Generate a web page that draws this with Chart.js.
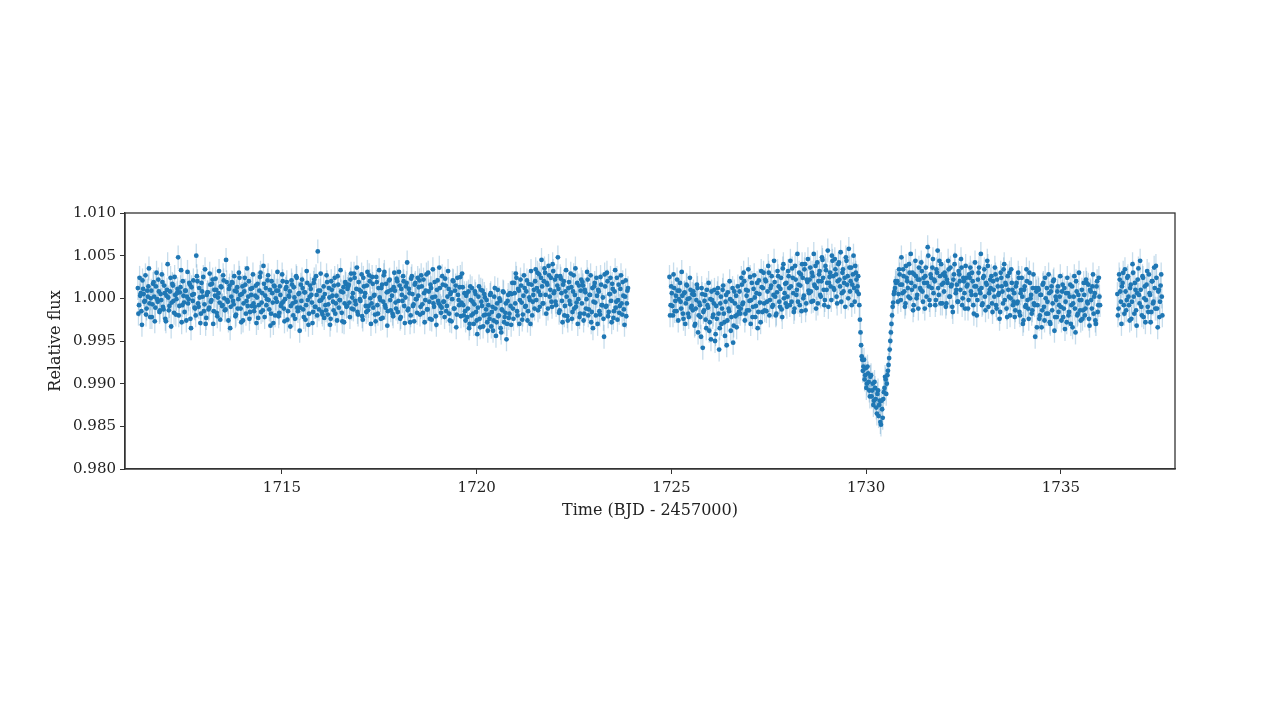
<!DOCTYPE html>
<html>
<head>
<meta charset="utf-8">
<script src="https://cdn.jsdelivr.net/npm/chart.js@4.4.1/dist/chart.umd.min.js"></script>
<style>
  html, body { margin: 0; padding: 0; background: #fff; }
</style>
</head>
<body>
<canvas id="lc" width="1280" height="706"></canvas>
<script>
// Light curve. Flux values are deviations from 1 in units of 1e-4.
// Each segment is kept as two interleaved runs (A and B, offset by half a cadence).
const cadence = 0.03;   // days between samples in one run
const fluxErr = 0.0014; // typical error bar (half length)

const seg1Start = 1711.30;
const seg1Flux = [
  12,-8,3,-15,21,5,-3,-19,9,14,-6,0,-22,17,2,-11,30,-4,8,-14,
  -2,19,-13,6,-27,10,1,-9,24,-5,15,-17,4,-1,11,-20,7,33,-8,3,
  -16,9,2,-6,18,-24,13,-3,5,-12,50,20,-10,1,-18,8,25,-7,-30,4,
  7,-11,16,-2,22,-15,3,10,-21,6,-5,14,-9,27,0,-13,19,-4,11,-35,
  2,18,-7,9,-19,13,-1,24,-12,5,-26,8,16,-3,-9,20,-16,4,12,-6,
  -10,15,1,-23,9,30,-5,-14,17,3,-8,21,-2,10,-18,6,-29,14,0,-4,
  9,-17,4,-6,20,-12,-1,13,-25,3,8,-9,16,-20,1,-4,24,-15,6,-11,
  -3,12,-22,7,-8,18,-31,2,11,-5,-16,22,-10,4,55,-13,9,-2,-19,14,
  5,-14,19,-7,1,-24,10,-4,15,-18,3,26,-11,-2,8,-27,13,-6,17,-9,
  14,-5,22,-12,6,29,-3,11,-16,19,-1,8,-21,24,2,-9,15,-14,27,0,
  -6,17,3,-19,25,-8,12,1,-24,16,-4,31,-11,7,-15,21,-2,10,-18,13,
  9,-12,20,-3,15,-22,4,26,-9,1,18,-14,11,-28,23,5,-7,16,-1,-17,
  3,21,-10,14,-17,6,-2,28,-13,8,-24,12,1,-6,19,-21,10,-3,36,-9,
  -11,16,-4,23,-15,2,11,-26,7,-1,20,-12,15,-19,4,-8,25,-5,13,-20,
  -15,3,-22,8,-30,-2,12,-18,-7,5,-26,-11,14,-34,-4,9,-20,1,-13,-28,
  -8,-24,6,-16,-38,2,-12,-28,10,-20,-3,-40,-14,7,-22,-6,-30,4,-18,-9,
  5,-12,18,-6,24,-20,9,-2,15,-25,3,12,-9,21,-15,1,-30,16,-4,10,
  20,-2,30,8,-10,24,14,-6,35,4,18,-12,27,10,-4,40,6,22,-8,15,
  11,-14,23,-3,16,-20,8,2,-26,19,-7,13,-16,27,4,-10,18,-1,-22,9,
  -6,15,-18,7,-1,22,-13,4,-28,12,-4,18,-20,3,10,-15,25,-8,1,-45,
  14,-9,20,-16,5,-3,17,-23,8,-11,24,-2,-17,11,-6,19,-13,2,-21,9
];
const seg1FluxB = [
  -18,24,6,-31,11,-4,27,-12,2,35,-22,9,-7,19,-27,14,-1,22,-16,5,
  28,-10,15,-24,3,40,-14,8,-33,17,-3,25,-19,6,48,-9,13,-28,20,-5,
  9,-26,31,-1,16,-35,4,21,-11,-20,26,-6,12,-29,18,2,-15,34,-23,7,
  -13,29,-4,17,-30,10,23,-17,1,32,-25,13,-8,21,-14,45,-2,-26,15,-10,
  19,-3,26,-21,8,-12,30,4,-28,14,-6,24,-18,35,2,-24,11,-9,28,-15,
  3,-29,17,-8,25,-16,6,38,-22,12,-1,27,-13,-32,20,-5,15,-20,9,31,
  -21,14,-9,28,-4,-27,11,19,-15,2,-33,21,-6,13,-24,26,-11,5,-38,16,
  22,-13,7,-25,32,-2,-18,15,4,-29,18,-10,26,-20,9,-3,29,-16,1,-23,
  -8,27,-19,12,-31,20,3,-14,24,-6,-26,16,-2,33,-17,7,-28,19,-10,11,
  16,-22,29,1,-13,24,-7,36,-19,10,-3,28,-25,14,6,-16,31,-9,20,-30,
  25,-11,4,-27,19,-18,33,-2,12,-23,27,-8,17,-32,8,22,-14,3,-21,30,
  -5,23,-16,31,-24,11,-3,20,-29,14,42,-12,6,-20,26,-9,-27,18,-1,24,
  13,-19,27,-7,22,-28,9,-13,30,-4,16,-25,34,-10,2,-31,21,-6,12,-17,
  26,-4,-22,15,-9,32,-18,5,-27,21,-12,9,-34,24,-2,13,-21,29,-8,6,
  -26,6,-12,-35,14,-20,-4,-30,8,-16,-42,2,-24,10,-9,-33,5,-19,-2,-38,
  -19,4,-33,-10,-26,12,-44,-6,-21,0,-35,-13,8,-28,-17,-48,-3,-23,6,-31,
  18,-24,6,29,-15,11,-30,22,-5,-19,27,-10,8,-26,17,-2,32,-20,4,-12,
  34,12,-14,28,4,45,-6,20,30,-18,16,38,2,24,-10,32,8,-4,26,48,
  -17,26,6,-28,20,-9,33,-21,12,-3,29,-24,8,-12,35,-5,-30,15,-18,22,
  19,-26,10,-12,31,-20,4,27,-16,-35,14,-5,24,-30,8,-19,16,-8,-24,28,
  -10,30,-21,5,24,-28,11,-15,33,-4,-25,16,-9,27,-19,3,-31,21,-6,12
];

const seg2aStart = 1724.95;
const seg2aFlux = [
  25,-8,6,-20,12,-3,-15,9,-1,18,-12,3,-24,7,-6,15,-18,0,10,-9,
  -14,4,-30,-2,12,-20,-8,-45,5,-16,-3,-25,10,-11,-38,-1,8,-22,-6,-50,
  -9,6,-18,-35,2,-12,15,-28,-4,-55,7,-15,-1,-22,12,-32,-6,3,-19,-10,
  8,-12,16,-5,20,-18,3,9,-14,25,-2,-22,11,1,-9,18,-16,5,-28,13,
  12,-6,22,-15,8,30,-2,15,-10,4,19,-20,7,26,-4,11,-13,35,0,17,
  18,2,26,-8,14,35,6,-12,22,10,-4,30,15,-15,24,3,40,-6,19,9,
  22,8,30,-3,16,38,12,-6,28,4,20,45,10,-2,33,18,-10,25,14,50,
  26,10,34,2,20,42,14,-4,30,8,24,48,16,0,36,20,-8,28,12,38,
  22,14
];
const seg2aFluxB = [
  -20,14,-9,28,-15,3,22,-26,9,-4,31,-18,6,-30,16,-1,-22,24,-11,5,
  8,-32,-12,16,-40,-5,-22,12,-58,-14,4,-35,-8,18,-28,-48,-2,-19,10,-42,
  -24,12,-60,-6,-30,10,-18,-44,4,-26,-12,20,-38,-3,-52,8,-21,-34,14,-16,
  -18,24,-7,30,-26,10,-14,34,-3,-30,18,-10,27,-22,6,-35,21,-5,32,-16,
  30,-14,20,-4,38,-20,12,26,-8,44,2,-18,32,14,-10,24,-22,40,6,-6,
  -10,32,12,44,-4,24,-16,38,4,52,16,-8,28,40,0,34,-14,22,46,6,
  36,-4,26,52,14,-12,42,20,32,2,48,24,-8,38,10,56,18,30,-2,44,
  12,46,28,-6,40,22,54,6,34,18,-10,44,26,58,8,36,16,50,-4,30,
  8,26
];

const transitStart = 1729.81;
const transitFlux = [
  5,-25,-55,-72,-80,-95,-82,-100,-88,-108,-92,-115,-100,-120,-105,-128,
  -112,-138,-120,-148,-130,-118,-105,-95,-100,-85,-70,-50,-30,-10,5,12,18
];
const transitFluxB = [
  -8,-40,-68,-85,-72,-90,-105,-80,-98,-115,-90,-108,-125,-98,-118,-135,
  -108,-125,-145,-120,-140,-110,-92,-112,-90,-78,-60,-40,-20,-5,8,20
];

const seg2bStart = 1730.80;
const seg2bFlux = [
  20,5,28,-2,16,34,8,-6,24,12,40,0,18,30,-8,14,26,4,-12,22,
  10,32,-4,18,26,2,60,14,-8,24,36,6,20,-2,30,12,44,-6,16,28,
  8,26,-6,18,34,2,14,-10,22,40,6,16,-4,28,10,36,0,20,-12,24,
  16,-2,24,8,30,-8,14,4,-20,22,36,6,12,-6,26,2,18,44,-10,10,
  12,-6,20,2,28,-12,14,6,-16,24,8,34,-2,16,-22,10,30,0,18,-8,
  6,-14,18,-4,24,-20,10,2,-26,14,-8,20,-12,30,0,-18,12,-6,-45,8,
  -8,10,-20,4,-14,18,-26,0,12,-18,6,-30,14,-6,22,-22,-2,8,-16,2,
  -10,8,-22,12,-4,-28,6,-16,16,-8,-34,2,-12,20,-20,4,-2,-26,10,-14,
  4,-12,18,-6,-24,10,-2,14,-18,6,-30,20,-8,2
];
const seg2bFluxB = [
  -4,34,16,48,6,26,-10,38,20,2,30,52,10,-14,28,44,0,22,36,12,
  42,8,24,-12,36,18,50,-2,28,12,46,22,-8,34,56,4,26,40,-6,18,
  30,-10,22,44,2,36,16,-16,28,50,10,-4,32,20,46,-8,24,6,38,14,
  -12,28,36,4,20,-18,42,14,-2,30,10,52,-8,24,34,-14,16,38,6,22,
  26,-16,10,36,-8,22,4,-24,30,14,-6,40,18,-12,26,2,-20,34,10,-4,
  -22,14,-6,30,-16,6,24,-30,10,-10,34,-2,-24,18,4,-14,28,-8,12,-34,
  12,-24,4,-34,16,-10,24,-18,-4,28,-28,8,-14,20,-38,2,-22,14,-8,26,
  -26,16,-12,-36,6,24,-20,2,-30,14,-6,26,-40,8,-18,30,-14,-2,-24,18,
  -20,22,-4,16,-32,8,-12,28,2,-26,14,-16,24,-8
];

const seg3Start = 1736.45;
const seg3Flux = [
  5,-12,22,-4,14,30,-18,8,-2,26,-8,12,-24,40,2,18,-14,6,35,-6,
  10,-20,24,0,-28,16,-10,28,4,-16,20,-4,12,38,-12,8,-22,15,2
];
const seg3FluxB = [
  -20,28,8,-30,18,-8,34,-14,24,2,-26,16,-4,30,-18,10,-32,22,4,44,
  -10,26,-22,14,-2,32,-16,6,-28,20,-6,36,-12,24,-34,10,-4,28,-20
];

const xTicks = [1715, 1720, 1725, 1730, 1735];
const yTicks = [0.980, 0.985, 0.990, 0.995, 1.000, 1.005, 1.010];

function toPoints(start, devs) {
  return devs.map((d, i) => ({ x: start + i * cadence, y: 1 + d / 10000 }));
}

const half = cadence / 2;
const points = [].concat(
  toPoints(seg1Start, seg1Flux),
  toPoints(seg1Start + half, seg1FluxB),
  toPoints(seg2aStart, seg2aFlux),
  toPoints(seg2aStart + half, seg2aFluxB),
  toPoints(transitStart, transitFlux),
  toPoints(transitStart + half, transitFluxB),
  toPoints(seg2bStart, seg2bFlux),
  toPoints(seg2bStart + half, seg2bFluxB),
  toPoints(seg3Start, seg3Flux),
  toPoints(seg3Start + half, seg3FluxB)
);

const textColor = '#222';
const axisColor = '#333';
const serif = "'DejaVu Serif', 'Liberation Serif', serif";

// light error bars behind the points
const errorBars = {
  id: 'errorBars',
  beforeDatasetsDraw(chart) {
    const { ctx, chartArea, scales: { x, y } } = chart;
    ctx.save();
    ctx.beginPath();
    ctx.rect(chartArea.left, chartArea.top, chartArea.width, chartArea.height);
    ctx.clip();
    ctx.strokeStyle = 'rgba(31,119,180,0.25)';
    ctx.lineWidth = 1.3;
    chart.data.datasets[0].data.forEach(p => {
      const px = x.getPixelForValue(p.x);
      ctx.beginPath();
      ctx.moveTo(px, y.getPixelForValue(p.y - fluxErr));
      ctx.lineTo(px, y.getPixelForValue(p.y + fluxErr));
      ctx.stroke();
    });
    ctx.restore();
  }
};

// box round the plot area
const frame = {
  id: 'frame',
  afterDraw(chart) {
    const { ctx, chartArea: a } = chart;
    ctx.save();
    ctx.strokeStyle = axisColor;
    ctx.lineWidth = 1.3;
    ctx.strokeRect(a.left, a.top, a.width, a.height);
    ctx.restore();
  }
};

new Chart(document.getElementById('lc'), {
  type: 'scatter',
  data: {
    datasets: [{
      data: points,
      backgroundColor: '#1f77b4',
      borderWidth: 0,
      pointRadius: 2.4,
      pointHoverRadius: 2.4
    }]
  },
  plugins: [errorBars, frame],
  options: {
    responsive: false,
    animation: false,
    events: [],
    layout: { padding: { left: 46, right: 105, top: 213, bottom: 186 } },
    plugins: { legend: { display: false }, tooltip: { enabled: false } },
    scales: {
      x: {
        type: 'linear',
        min: 1710.97,
        max: 1737.93,
        afterBuildTicks: (scale) => { scale.ticks = xTicks.map(v => ({ value: v })); },
        afterFit: (scale) => { scale.height = 51; },
        ticks: {
          color: textColor,
          font: { family: serif, size: 15 },
          padding: 5,
          maxRotation: 0,
          callback: (v) => String(v)
        },
        grid: { drawOnChartArea: false, drawTicks: true, tickLength: 5, tickColor: axisColor },
        border: { color: axisColor, width: 1.3 },
        title: {
          display: true,
          text: 'Time (BJD - 2457000)',
          color: textColor,
          font: { family: serif, size: 16 },
          padding: 0
        }
      },
      y: {
        min: 0.98,
        max: 1.01,
        afterBuildTicks: (scale) => { scale.ticks = yTicks.map(v => ({ value: v })); },
        afterFit: (scale) => { scale.width = 79; },
        ticks: {
          color: textColor,
          font: { family: serif, size: 15 },
          padding: 4,
          callback: (v) => v.toFixed(3)
        },
        grid: { drawOnChartArea: false, drawTicks: true, tickLength: 5, tickColor: axisColor },
        border: { color: axisColor, width: 1.3 },
        title: {
          display: true,
          text: 'Relative flux',
          color: textColor,
          font: { family: serif, size: 16 },
          padding: 0
        }
      }
    }
  }
});
</script>
</body>
</html>
